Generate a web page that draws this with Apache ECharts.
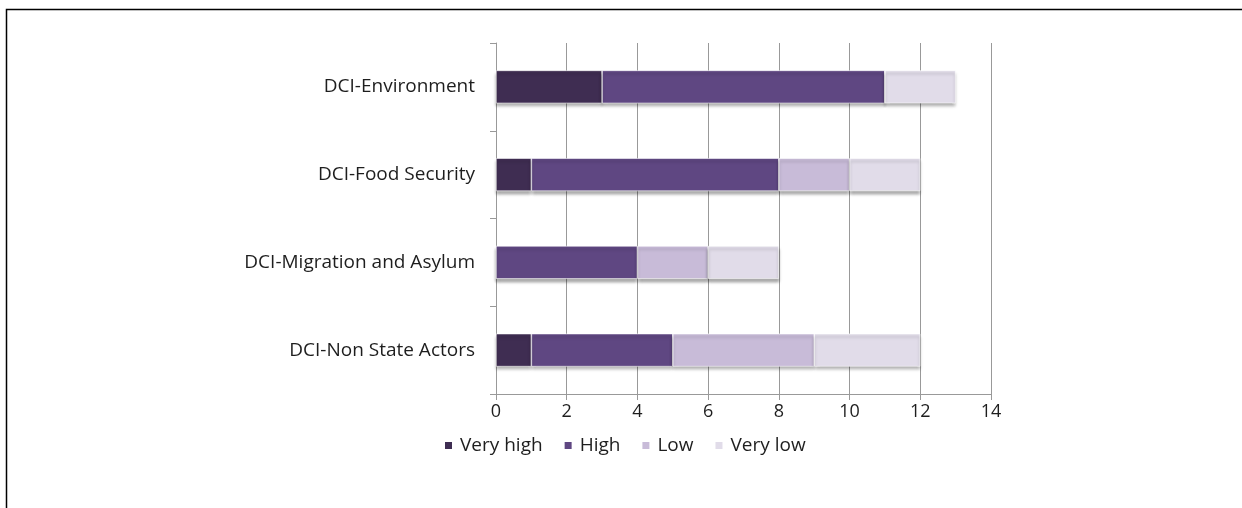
<!DOCTYPE html>
<html>
<head>
<meta charset="utf-8">
<script src="https://cdn.jsdelivr.net/npm/echarts@6/dist/echarts.min.js"></script>
<style>
  html, body { margin: 0; padding: 0; background: #fff; }
  #chart { width: 1242px; height: 508px; }
</style>
</head>
<body>
<div id="chart"></div>
<script>
var categories = ['DCI-Environment', 'DCI-Food Security', 'DCI-Migration and Asylum', 'DCI-Non State Actors'];
var seriesNames = ['Very high', 'High', 'Low', 'Very low'];
var veryHigh = [3, 1, 0, 1];
var high = [8, 7, 4, 4];
var low = [0, 2, 2, 4];
var veryLow = [2, 2, 2, 3];
var colors = ['#3f2d52', '#5f4782', '#c8bbd8', '#e1dce9'];

var values = [veryHigh, high, low, veryLow];

var series = values.map(function (d, i) {
    return {
        name: seriesNames[i],
        type: 'bar',
        stack: 'total',
        barWidth: 33,
        itemStyle: {
            color: colors[i],
            borderColor: '#fff',
            borderWidth: 0.6,
            shadowColor: 'rgba(0,0,0,0.35)',
            shadowOffsetY: 3,
            shadowBlur: 3
        },
        data: d
    };
});

var myChart = echarts.init(document.getElementById('chart'));
myChart.setOption({
    animation: false,
    textStyle: { fontFamily: 'Open Sans', color: '#1e1e1e' },
    color: colors,
    grid: { left: 496, right: 251, top: 43, bottom: 114 },
    legend: {
        top: 431,
        left: 438,
        itemWidth: 9,
        itemHeight: 9,
        itemGap: 20,
        icon: 'rect',
        textStyle: { fontSize: 19, color: '#1e1e1e', padding: [0, 0, 0, 2] },
        data: seriesNames
    },
    xAxis: {
        type: 'value',
        min: 0,
        max: 14,
        interval: 2,
        axisLine: { show: true, lineStyle: { color: '#999' } },
        axisTick: { show: true, length: 6, lineStyle: { color: '#999' } },
        axisLabel: { fontSize: 18, color: '#1e1e1e', margin: 9 },
        splitLine: { show: true, lineStyle: { color: '#999', width: 1 } }
    },
    yAxis: {
        type: 'category',
        inverse: true,
        data: categories,
        axisLine: { show: true, lineStyle: { color: '#999' } },
        axisTick: { show: true, length: 6, lineStyle: { color: '#999' } },
        axisLabel: { fontSize: 19, color: '#1e1e1e', margin: 21 }
    },
    graphic: [{
        type: 'polyline',
        shape: { points: [[6.5, 508], [6.5, 9.5], [1242, 9.5]] },
        style: { stroke: '#000', lineWidth: 1.5, fill: null }
    }],
    series: series
});
</script>
</body>
</html>
